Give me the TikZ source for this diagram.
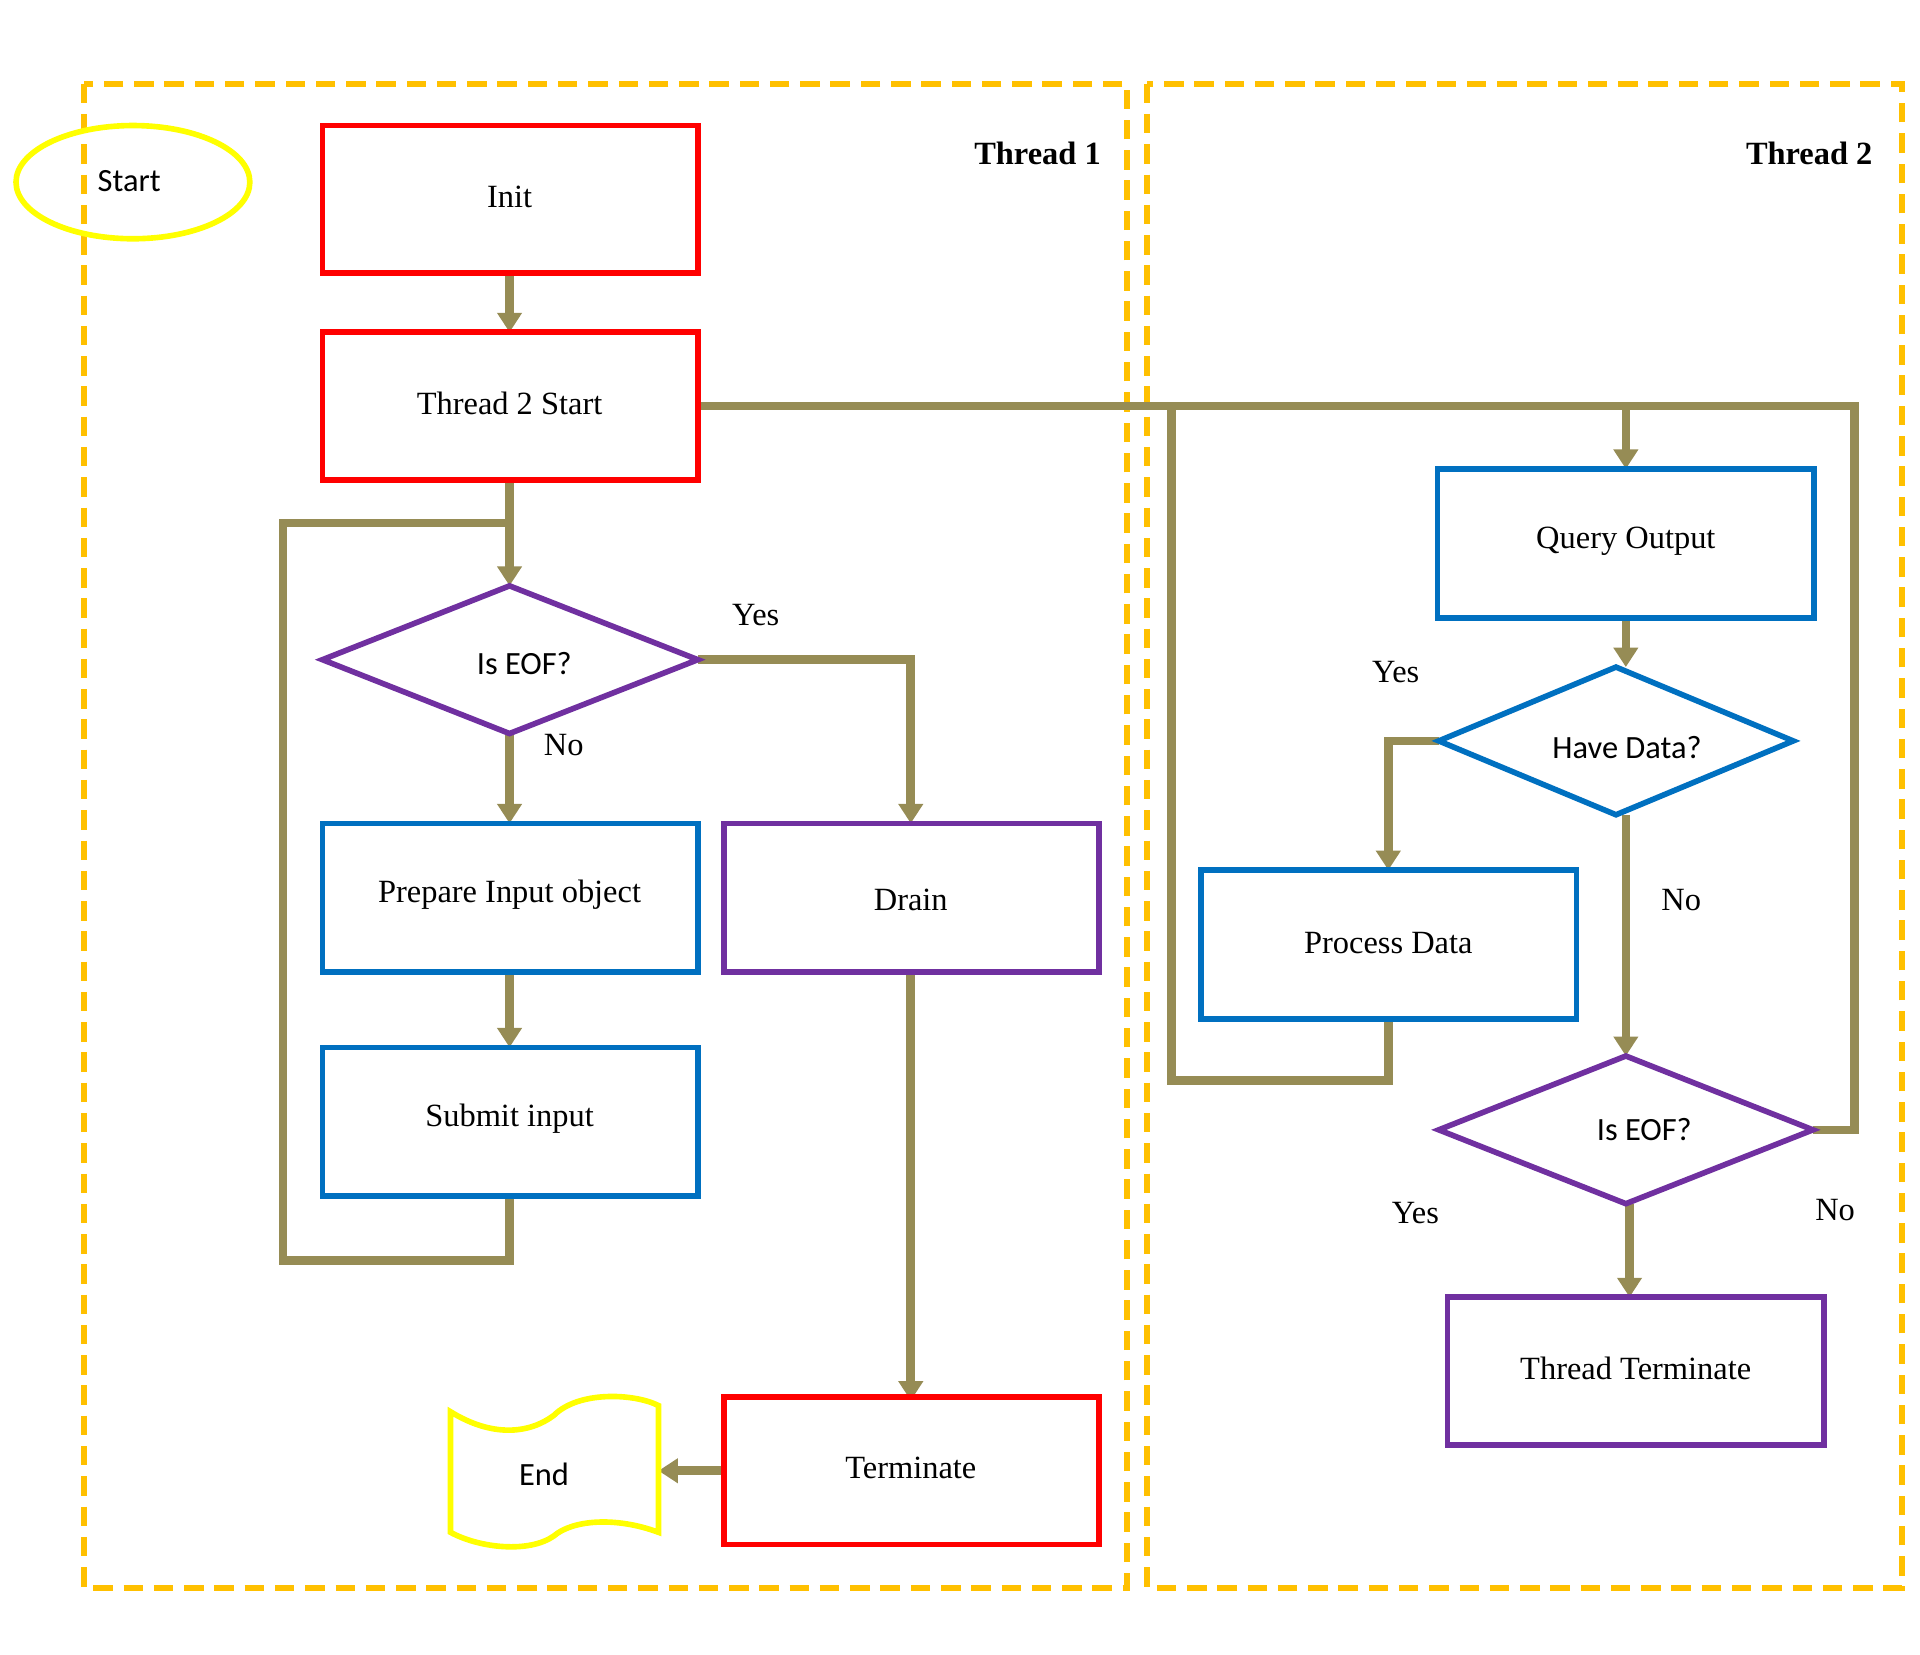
\documentclass[tikz,border=0pt]{standalone}
\usepackage{fontspec}
\setmainfont{Liberation Serif}
\newfontfamily\calib{Carlito}
\usetikzlibrary{arrows.meta}
\definecolor{olv}{HTML}{968C55}
\definecolor{org}{HTML}{FFC000}
\definecolor{rd}{HTML}{FF0000}
\definecolor{bl}{HTML}{0070C0}
\definecolor{pu}{HTML}{7030A0}
\definecolor{yl}{HTML}{FFFF00}
\begin{document}
\begin{tikzpicture}[x=0.02cm,y=-0.02cm,
  every node/.style={font=\fontsize{15}{18}\selectfont},
  boxr/.style={draw=rd,line width=2.6pt},
  boxb/.style={draw=bl,line width=2.6pt},
  boxp/.style={draw=pu,line width=2.6pt},
  con/.style={draw=olv,line width=4pt},
  arr/.style={con,-{Triangle[length=9pt,width=11pt]}},
  lane/.style={draw=org,line width=2.8pt,dash pattern=on 9pt off 5pt}]
\useasboundingbox (0,0) rectangle (1560,1344);
\draw[lane] (68,68) rectangle (916,1290);
\draw[lane] (932,68) rectangle (1545,1290);
\node[font=\fontsize{15}{18}\selectfont\bfseries] (t1) at (843,125) {Thread 1};
\node[font=\fontsize{15}{18}\selectfont\bfseries] (t2) at (1470,125) {Thread 2};
\draw[draw=yl,line width=2.6pt] (108,148) ellipse [x radius=95,y radius=46];
\node[font=\calib\fontsize{15}{18}\selectfont] (start) at (105,147) {Start};
% connectors first
\draw[con] (567,330) -- (1507,330) -- (1507,918) -- (1473,918);
\draw[con] (1128,828) -- (1128,878) -- (952,878) -- (952,330);
\draw[con] (414,972) -- (414,1024) -- (230,1024) -- (230,425) -- (414,425);
\draw[arr] (414,222) -- (414,270);
\draw[arr] (414,390) -- (414,476);
\draw[arr] (414,596) -- (414,669);
\draw[arr] (567,536) -- (740,536) -- (740,669);
\draw[arr] (414,790) -- (414,851);
\draw[arr] (740,790) -- (740,1138);
\draw[arr] (588,1195) -- (535,1195);
\draw[arr] (1321,330) -- (1321,381);
\draw[arr] (1321,502) -- (1321,542);
\draw[arr] (1169,602) -- (1128,602) -- (1128,707);
\draw[arr] (1321,662) -- (1321,858);
\draw[arr] (1324,978) -- (1324,1054);
% boxes
\draw[boxr,fill=white] (262,102) rectangle (567,222);
\node (init) at (414,160) {Init};
\draw[boxr,fill=white] (262,270) rectangle (567,390);
\node (t2s) at (414,328) {Thread 2 Start};
\draw[boxp,fill=white] (262,536) -- (414,476) -- (567,536) -- (414,596) -- cycle;
\node[font=\calib\fontsize{15}{18}\selectfont] (eof1) at (426,539) {Is EOF?};
\draw[boxb,fill=white] (262,669) rectangle (567,790);
\node (prep) at (414,727) {Prepare Input object};
\draw[boxb,fill=white] (262,851) rectangle (567,972);
\node (sub) at (414,909) {Submit input};
\draw[boxp,fill=white] (588,669) rectangle (893,790);
\node (drain) at (740,731) {Drain};
\draw[boxr,fill=white] (588,1135) rectangle (893,1255);
\node (term) at (740,1193) {Terminate};
\draw[draw=yl,line width=2.6pt,fill=white] (366,1147) .. controls (400,1168) and (430,1165) .. (450,1150) .. controls (470,1130) and (515,1132) .. (535,1142) -- (535,1245) .. controls (500,1232) and (465,1235) .. (450,1248) .. controls (430,1262) and (390,1258) .. (366,1245) -- cycle;
\node[font=\calib\fontsize{15}{18}\selectfont] (end) at (442,1198) {End};
\draw[boxb,fill=white] (1168,381) rectangle (1474,502);
\node (qo) at (1321,440) {Query Output};
\draw[boxb,fill=white] (1169,602) -- (1313,542) -- (1457,602) -- (1313,662) -- cycle;
\node[font=\calib\fontsize{15}{18}\selectfont] (hd) at (1322,607) {Have Data?};
\draw[boxb,fill=white] (976,707) rectangle (1281,828);
\node (pd) at (1128,766) {Process Data};
\draw[boxp,fill=white] (1169,918) -- (1321,858) -- (1473,918) -- (1321,978) -- cycle;
\node[font=\calib\fontsize{15}{18}\selectfont] (eof2) at (1336,918) {Is EOF?};
\draw[boxp,fill=white] (1176,1054) rectangle (1482,1174);
\node (tt) at (1329,1112) {Thread Terminate};
% labels
\node (l1) at (614,500) {Yes};
\node (l2) at (458,605) {No};
\node (l3) at (1134,546) {Yes};
\node (l4) at (1366,731) {No};
\node (l5) at (1150,986) {Yes};
\node (l6) at (1491,983) {No};
\end{tikzpicture}
\end{document}
